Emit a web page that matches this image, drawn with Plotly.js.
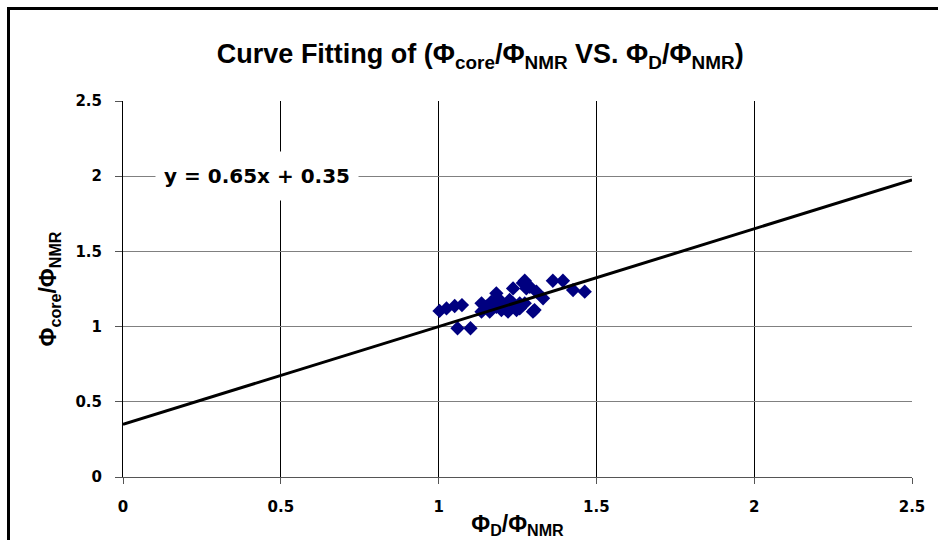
<!DOCTYPE html>
<html>
<head>
<meta charset="utf-8">
<script src="https://cdn.plot.ly/plotly-3.0.1.min.js"></script>
<style>
html,body{margin:0;padding:0;background:#fff;}
#wrap{position:relative;width:938px;height:540px;}
#chart{width:938px;height:540px;}
#frame{position:absolute;left:7px;top:7px;width:931px;height:533px;border-left:3px solid #000;border-top:3px solid #000;box-sizing:border-box;pointer-events:none;}
</style>
</head>
<body>
<div id="wrap"><div id="chart"></div><div id="frame"></div></div>
<script>
// Data
const ratioD = [1.003,1.025,1.051,1.074,1.060,1.101,1.136,1.136,1.151,1.167,1.183,1.188,1.199,1.209,1.220,1.236,1.257,1.273,1.278,1.299,1.310,1.331,1.362,1.394,1.426,1.463,1.257,1.236,1.183,1.162,1.199,1.247,1.273,1.225,1.241,1.304,1.289,1.267];
const ratioCore = [1.104,1.121,1.137,1.143,0.989,0.989,1.155,1.099,1.132,1.165,1.221,1.188,1.165,1.132,1.099,1.254,1.121,1.305,1.254,1.099,1.232,1.188,1.305,1.305,1.243,1.232,1.155,1.155,1.132,1.099,1.110,1.110,1.155,1.177,1.132,1.110,1.265,1.290];
const fitSlope = 0.65;
const fitIntercept = 0.35;
const fitRange = [0, 2.5];
const xTicks = [0, 0.5, 1, 1.5, 2, 2.5];
const yTicks = [0, 0.5, 1, 1.5, 2, 2.5];
const xTickText = ['0','0.5','1','1.5','2','2.5'];
const yTickText = ['0','0.5','1','1.5','2','2.5'];

const fitY = fitRange.map(v => fitSlope * v + fitIntercept);
const eqText = 'y = ' + fitSlope + 'x + ' + fitIntercept;

const data = [
  {x: ratioD, y: ratioCore, type: 'scatter', mode: 'markers',
   marker: {symbol: 'diamond', size: 11, color: '#000080', line: {width: 0}},
   showlegend: false, hoverinfo: 'skip'},
  {x: fitRange, y: fitY, type: 'scatter', mode: 'lines',
   line: {color: '#000', width: 3}, showlegend: false, hoverinfo: 'skip'}
];

const tickFont = {family: 'DejaVu Sans', size: 15, color: '#000', weight: 'bold'};
const layout = {
  width: 938, height: 540,
  margin: {l: 123, r: 26, t: 101, b: 63},
  paper_bgcolor: '#fff', plot_bgcolor: '#fff',
  font: {family: 'Liberation Sans, Arial, sans-serif', color: '#000'},
  title: {text: '<b>Curve Fitting of (Φ<sub>core</sub>/Φ<sub>NMR</sub> VS. Φ<sub>D</sub>/Φ<sub>NMR</sub>)</b>',
          font: {family: 'Liberation Sans, Arial, sans-serif', size: 27, color: '#000'},
          x: 0.512, xanchor: 'center', y: 0.9, yanchor: 'middle', yref: 'container'},
  xaxis: {range: [0, 2.5], tickvals: xTicks, ticktext: xTickText,
          showgrid: true, gridcolor: '#000', gridwidth: 1,
          showline: true, linecolor: '#555', linewidth: 1,
          ticks: 'outside', ticklen: 6, tickcolor: '#555', ticklabelstandoff: 10,
          zeroline: false, tickfont: tickFont,
          title: {text: '<b>Φ<sub>D</sub>/Φ<sub>NMR</sub></b>', font: {size: 23, color: '#000'}, standoff: 0}},
  yaxis: {range: [0, 2.5], tickvals: yTicks, ticktext: yTickText,
          showgrid: true, gridcolor: '#808080', gridwidth: 1,
          showline: true, linecolor: '#000', linewidth: 1,
          ticks: 'outside', ticklen: 7, tickcolor: '#555', ticklabelstandoff: 10,
          zeroline: false, tickfont: tickFont,
          title: {text: '<b>Φ<sub>core</sub>/Φ<sub>NMR</sub></b>', font: {size: 23, color: '#000'}, standoff: 12}},
  annotations: [{x: 0.425, y: 2.0, xref: 'x', yref: 'y', text: '<b>' + eqText + '</b>',
                 showarrow: false, bgcolor: '#fff', width: 200, height: 46,
                 font: {family: 'DejaVu Sans', size: 20, color: '#000'}}]
};
Plotly.newPlot('chart', data, layout, {displayModeBar: false, staticPlot: true});
</script>
</body>
</html>
